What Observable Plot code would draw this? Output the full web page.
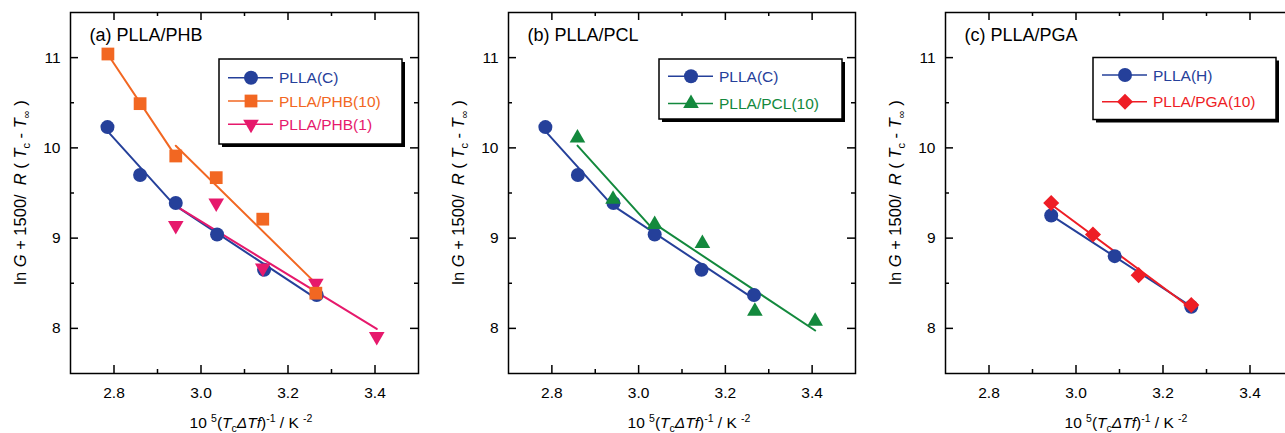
<!DOCTYPE html>
<html><head><meta charset="utf-8">
<script src="https://cdn.jsdelivr.net/npm/d3@7"></script>
<script src="https://cdn.jsdelivr.net/npm/@observablehq/plot@0.6"></script>
<style>
body{margin:0;background:#fff;}
#wrap{display:flex;width:1285px;height:433px;overflow:hidden;}
#wrap svg{flex:none;}
</style></head><body><div id="wrap"></div>
<script>
// ---- data ----
const xTicksMajor = [2.8, 3.0, 3.2, 3.4];
const xTicksMinor = [2.9, 3.1, 3.3];
const yTicksMajor = [8, 9, 10, 11];
const yTicksMinor = [8.5, 9.5, 10.5];
const xDomain = [2.7, 3.5];
const yDomain = [7.5, 11.5];

const xPLLA_C = [2.785, 2.860, 2.942, 3.037, 3.145, 3.266];
const yPLLA_C = [10.23, 9.70, 9.39, 9.04, 8.65, 8.37];
const xPHB10 = [2.786, 2.860, 2.942, 3.035, 3.142, 3.264];
const yPHB10 = [11.04, 10.49, 9.91, 9.67, 9.21, 8.39];
const xPHB1 = [2.942, 3.035, 3.142, 3.264, 3.404];
const yPHB1 = [9.14, 9.39, 8.67, 8.50, 7.91];
const xPCL10 = [2.859, 2.941, 3.037, 3.147, 3.268, 3.407];
const yPCL10 = [10.11, 9.43, 9.15, 8.94, 8.19, 8.08];
const xPLLA_H = [2.943, 3.089, 3.265];
const yPLLA_H = [9.25, 8.80, 8.24];
const xPGA10 = [2.943, 3.039, 3.144, 3.265];
const yPGA10 = [9.39, 9.04, 8.59, 8.26];

// fitted segments (index ranges of points used for each straight-line fit)
const fitPLLA_C = [[0, 2], [2, 5]];
const fitPHB10 = [[0, 2], [2, 5]];
const fitPHB1 = [[0, 4]];
const fitPCL10 = [[0, 2], [2, 5]];
const fitPLLA_H = [[0, 2]];
const fitPGA10 = [[0, 3]];

const titles = ["(a) PLLA/PHB", "(b) PLLA/PCL", "(c) PLLA/PGA"];

// ---- styling ----
const FONT = "'Liberation Sans', Arial, Helvetica, sans-serif";
const BLUE = "#25409a", ORANGE = "#f26722", MAGENTA = "#e6196c", GREEN = "#13893d", RED = "#ee1d25";
const H = 433, ML = 70, MR = 20, MT = 12, MB = 60;
const widths = [438, 437, 438];
const symbolTypes = {circle: d3.symbolCircle, square: d3.symbolSquare, triangle: d3.symbolTriangle};

function series(name, xs, ys, fit, color, symbol, rotate, r) {
  const points = xs.map((x, i) => ({x, y: ys[i], name}));
  const fitRows = fit.flatMap((seg, k) => points.slice(seg[0], seg[1] + 1).map(p => ({...p, seg: name + "_" + k})));
  return {name, points, fitRows, color, symbol, rotate, r};
}

const panels = [
  {title: titles[0], legend: {bx: 219, by: 59, first: 18.7, step: 23.3, h: 85},
   series: [
     series("PLLA(C)", xPLLA_C, yPLLA_C, fitPLLA_C, BLUE, "circle", 0, 7),
     series("PLLA/PHB(10)", xPHB10, yPHB10, fitPHB10, ORANGE, "square", 0, 7.2),
     series("PLLA/PHB(1)", xPHB1, yPHB1, fitPHB1, MAGENTA, "triangle", 180, 5.8)
   ], drawOrder: [0, 2, 1]},
  {title: titles[1], legend: {bx: 221, by: 59, first: 17.3, step: 27.3, h: 60},
   series: [
     series("PLLA(C)", xPLLA_C, yPLLA_C, fitPLLA_C, BLUE, "circle", 0, 7),
     series("PLLA/PCL(10)", xPCL10, yPCL10, fitPCL10, GREEN, "triangle", 0, 5.8)
   ], drawOrder: [0, 1]},
  {title: titles[2], legend: {bx: 218, by: 57.5, first: 17.5, step: 26.7, h: 62},
   series: [
     series("PLLA(H)", xPLLA_H, yPLLA_H, fitPLLA_H, BLUE, "circle", 0, 7),
     series("PLLA/PGA(10)", xPGA10, yPGA10, fitPGA10, RED, "square", 45, 6.4)
   ], drawOrder: [0, 1]}
];

function rich(sel, parts, small) {
  let cur = 0;
  parts.forEach(p => {
    const target = p.shift === "sub" ? 4 : p.shift === "sup" ? -6 : 0;
    const t = sel.append("tspan").text(p.t);
    if (target !== cur) t.attr("dy", target - cur);
    cur = target;
    if (p.italic) t.attr("font-style", "italic");
    if (p.shift) t.attr("font-size", small);
  });
}

const wrap = document.getElementById("wrap");
panels.forEach((p, pi) => {
  const W = widths[pi];
  const plotW = W - ML - MR, plotH = H - MT - MB;
  const marks = [
    Plot.frame({stroke: "black", strokeWidth: 1.5}),
    Plot.tickX(xTicksMajor, {x: d => d, insetTop: plotH - 8, stroke: "black", strokeWidth: 1.5}),
    Plot.tickX(xTicksMinor, {x: d => d, insetTop: plotH - 4, stroke: "black", strokeWidth: 1.5}),
    Plot.tickX(xTicksMajor, {x: d => d, insetBottom: plotH - 8, stroke: "black", strokeWidth: 1.5}),
    Plot.tickX(xTicksMinor, {x: d => d, insetBottom: plotH - 4, stroke: "black", strokeWidth: 1.5}),
    Plot.tickY(yTicksMajor, {y: d => d, insetRight: plotW - 8, stroke: "black", strokeWidth: 1.5}),
    Plot.tickY(yTicksMinor, {y: d => d, insetRight: plotW - 4, stroke: "black", strokeWidth: 1.5}),
    Plot.tickY(yTicksMajor, {y: d => d, insetLeft: plotW - 8, stroke: "black", strokeWidth: 1.5}),
    Plot.tickY(yTicksMinor, {y: d => d, insetLeft: plotW - 4, stroke: "black", strokeWidth: 1.5}),
    Plot.axisX({ticks: xTicksMajor, tickSize: 0, tickPadding: 13, tickFormat: d3.format(".1f"), label: null, fill: "black"}),
    Plot.axisY({ticks: yTicksMajor, tickSize: 0, tickPadding: 10, tickFormat: d3.format("d"), label: null, fill: "black"}),
    Plot.text([p.title], {frameAnchor: "top-left", dx: 19, dy: 23, text: d => d, fontSize: 18, textAnchor: "start", lineAnchor: "middle", fill: "black"})
  ];
  p.drawOrder.forEach(i => {
    const s = p.series[i];
    marks.push(Plot.linearRegressionY(s.fitRows, {x: "x", y: "y", z: "seg", stroke: s.color, strokeWidth: 2, ci: 0}));
  });
  p.drawOrder.forEach(i => {
    const s = p.series[i];
    marks.push(Plot.dot(s.points, {x: "x", y: "y", symbol: s.symbol, r: s.r, fill: s.color, stroke: "none", rotate: s.rotate}));
  });
  const svg = Plot.plot({
    width: W, height: H, marginLeft: ML, marginRight: MR, marginTop: MT, marginBottom: MB,
    x: {domain: xDomain}, y: {domain: yDomain},
    style: {fontFamily: FONT, fontSize: "15.5px", color: "black", background: "white", overflow: "visible"},
    marks
  });
  const root = d3.select(svg);
  // legend
  const L = p.legend;
  const g = root.append("g").attr("font-family", FONT).attr("font-size", 15.5).attr("text-anchor", "start");
  g.append("rect").attr("x", L.bx + 3).attr("y", L.by + 3).attr("width", 183).attr("height", L.h).attr("fill", "black");
  g.append("rect").attr("x", L.bx).attr("y", L.by).attr("width", 183).attr("height", L.h)
    .attr("fill", "white").attr("stroke", "black").attr("stroke-width", 1.5);
  p.series.forEach((s, i) => {
    const cy = L.by + L.first + i * L.step;
    g.append("line").attr("x1", L.bx + 9).attr("x2", L.bx + 54).attr("y1", cy).attr("y2", cy)
      .attr("stroke", s.color).attr("stroke-width", 1.5);
    g.append("path").attr("d", d3.symbol(symbolTypes[s.symbol], s.r * s.r * Math.PI)())
      .attr("transform", `translate(${L.bx + 32},${cy}) rotate(${s.rotate})`).attr("fill", s.color);
    g.append("text").attr("x", L.bx + 60).attr("y", cy).attr("dy", "0.36em").attr("text-anchor", "start")
      .attr("fill", s.color).text(s.name);
  });
  // y-axis label
  const yl = root.append("text").attr("transform", `translate(20,${MT + plotH / 2}) rotate(-90)`)
    .attr("text-anchor", "middle").attr("dy", "0.36em").attr("font-family", FONT).attr("font-size", 16.5)
    .attr("fill", "black").style("white-space", "pre");
  rich(yl, [{t: "ln "}, {t: "G", italic: true}, {t: " + 1500/  "}, {t: "R", italic: true}, {t: " ( "},
    {t: "T", italic: true}, {t: "c", shift: "sub"}, {t: " - "}, {t: "T", italic: true}, {t: "\u221E", shift: "sub"}, {t: " )"}], 11);
  // x-axis label
  const xl = root.append("text").attr("x", 251).attr("y", 428).attr("text-anchor", "middle")
    .attr("font-family", FONT).attr("font-size", 15.5).attr("fill", "black").style("white-space", "pre");
  rich(xl, [{t: "10 "}, {t: "5", shift: "sup"}, {t: "("}, {t: "T", italic: true}, {t: "c", shift: "sub"},
    {t: "\u0394Tf", italic: true}, {t: ")"}, {t: "-1", shift: "sup"}, {t: " / K "}, {t: "-2", shift: "sup"}], 10.5);
  wrap.appendChild(svg);
});
</script></body></html>
